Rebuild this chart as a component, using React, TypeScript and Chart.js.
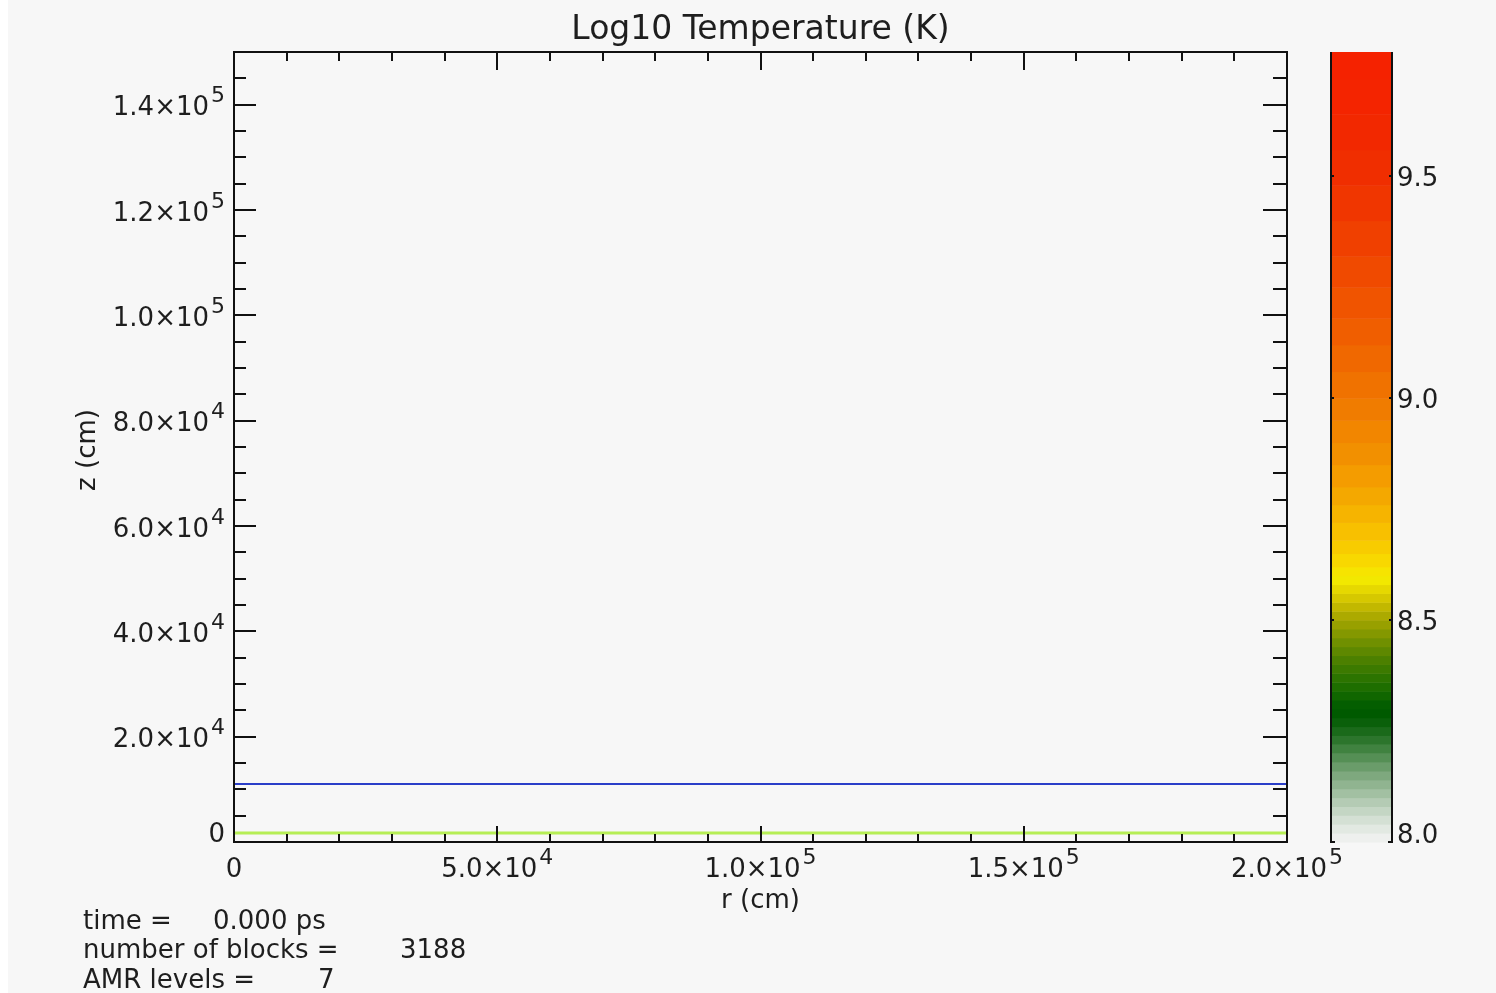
import React, { useEffect, useRef } from "react";
import { Chart, registerables } from "chart.js";

Chart.register(...registerables);

// ---- data ----
const rValues = [0, 200000];
const blueZ = [11000, 11000];
const greenZ = [1700, 1700];

const xTickValues = [0, 50000, 100000, 150000, 200000];
const xTickMant = ["0", "5.0", "1.0", "1.5", "2.0"];
const xTickExp = ["", "4", "5", "5", "5"];

const yTickValues = [0, 20000, 40000, 60000, 80000, 100000, 120000, 140000];
const yTickMant = ["0", "2.0", "4.0", "6.0", "8.0", "1.0", "1.2", "1.4"];
const yTickExp = ["", "4", "4", "4", "4", "5", "5", "5"];

const cbTickValues = [8.0, 8.5, 9.0, 9.5];
const cbTickLabels = ["8.0", "8.5", "9.0", "9.5"];

const cbStops = [
  8.0, 8.02, 8.04, 8.06, 8.08, 8.1, 8.12, 8.14, 8.16, 8.18, 8.2, 8.22, 8.24,
  8.26, 8.28, 8.3, 8.32, 8.34, 8.36, 8.38, 8.4, 8.42, 8.44, 8.46, 8.48, 8.5,
  8.52, 8.54, 8.56, 8.58, 8.6, 8.62, 8.65, 8.68, 8.72, 8.76, 8.8, 8.85, 8.9,
  8.95, 9.0, 9.06, 9.12, 9.18, 9.25, 9.32, 9.4, 9.48, 9.56, 9.64, 9.72, 9.78,
];
const cbColors = [
  "#eef0ee", "#e2e9e2", "#d4e0d4", "#c4d6c4", "#b4cbb4", "#a2c0a2", "#90b490",
  "#7ea87e", "#6a9c6a", "#558f55", "#408240", "#2c752c", "#1a6a1a", "#0a600a",
  "#005a00", "#045e00", "#106600", "#1e6e00", "#2c7400", "#3c7a00", "#4c8000",
  "#5e8800", "#709000", "#849800", "#98a000", "#acaa00", "#c2b800", "#d6c800",
  "#e6d800", "#f2e800", "#f6e400", "#f8d800", "#f8cc00", "#f8c000", "#f6b400",
  "#f4a800", "#f49c00", "#f29000", "#f28600", "#f07c00", "#f07200", "#f06800",
  "#f05e00", "#f05400", "#f04a00", "#f04000", "#f03600", "#f02e00", "#f22800",
  "#f42400", "#f52200",
];

const titleText = "Log10 Temperature (K)";
const xTitle = "r (cm)";
const yTitle = "z (cm)";
const infoLabels = ["time =", "number of blocks =", "AMR levels ="];
const infoValues = ["0.000 ps", "3188", "7"];

const FONT = "'DejaVu Sans', sans-serif";
const TEXT = "#1e1e1e";
const MAIN = 26;
const SUP = 22;

function sciWidth(ctx: CanvasRenderingContext2D, m: string, e: string) {
  ctx.font = `${MAIN}px ${FONT}`;
  const label = e ? m + "×10" : m;
  const w1 = ctx.measureText(label).width;
  ctx.font = `${SUP}px ${FONT}`;
  const w2 = e ? ctx.measureText(e).width + 2 : 0;
  return [w1, w2];
}

function drawSci(
  ctx: CanvasRenderingContext2D,
  m: string,
  e: string,
  x: number,
  y: number,
  align: "center" | "right"
) {
  const [w1, w2] = sciWidth(ctx, m, e);
  const total = w1 + w2;
  const left = align === "center" ? x - total / 2 : x - total;
  ctx.textAlign = "left";
  ctx.textBaseline = "middle";
  ctx.fillStyle = TEXT;
  ctx.font = `${MAIN}px ${FONT}`;
  ctx.fillText(e ? m + "×10" : m, left, y);
  if (e) {
    ctx.font = `${SUP}px ${FONT}`;
    ctx.fillText(e, left + w1 + 2, y - 12);
  }
}

const decorPlugin = {
  id: "decor",
  beforeDraw(chart: any) {
    const ctx = chart.ctx as CanvasRenderingContext2D;
    ctx.save();
    ctx.fillStyle = "#ffffff";
    ctx.fillRect(0, 0, chart.width, chart.height);
    ctx.fillStyle = "#f7f7f7";
    ctx.fillRect(8, 0, chart.width - 8, chart.height);
    ctx.restore();
  },
  afterDraw(chart: any) {
    const ctx = chart.ctx as CanvasRenderingContext2D;
    const xs = chart.scales.x;
    const ys = chart.scales.y;
    const cb = chart.scales.cb;
    const { left, right, top, bottom } = chart.chartArea;
    ctx.save();

    // frame
    ctx.strokeStyle = "#111";
    ctx.lineWidth = 2;
    ctx.strokeRect(left, top, right - left, bottom - top);

    // x ticks (top and bottom)
    ctx.beginPath();
    for (let v = 0; v <= 200000; v += 10000) {
      const px = Math.round(xs.getPixelForValue(v));
      const major = v % 50000 === 0;
      const lb = major ? 16 : 8;
      const lt = major ? 18 : 9;
      ctx.moveTo(px, bottom);
      ctx.lineTo(px, bottom - lb);
      ctx.moveTo(px, top);
      ctx.lineTo(px, top + lt);
    }
    // y ticks (left and right)
    for (let v = 0; v <= 150000; v += 5000) {
      const py = Math.round(ys.getPixelForValue(v));
      const major = v % 20000 === 0;
      const l = major ? 22 : 12;
      const r = major ? 24 : 14;
      ctx.moveTo(left, py);
      ctx.lineTo(left + l, py);
      ctx.moveTo(right, py);
      ctx.lineTo(right - r, py);
    }
    ctx.stroke();

    // x tick labels
    xTickValues.forEach((v, i) => {
      const px = xs.getPixelForValue(v);
      drawSci(ctx, xTickMant[i], xTickExp[i], px, bottom + 28, "center");
    });
    // y tick labels
    yTickValues.forEach((v, i) => {
      const py = Math.min(ys.getPixelForValue(v) + 4, bottom - 7);
      drawSci(ctx, yTickMant[i], yTickExp[i], left - 9, py, "right");
    });

    // titles
    ctx.fillStyle = TEXT;
    ctx.textAlign = "center";
    ctx.textBaseline = "middle";
    ctx.font = `33px ${FONT}`;
    ctx.fillText(titleText, (left + right) / 2, 30);
    ctx.font = `${MAIN}px ${FONT}`;
    ctx.fillText(xTitle, (left + right) / 2, 901);
    ctx.save();
    ctx.translate(88, 450);
    ctx.rotate(-Math.PI / 2);
    ctx.fillText(yTitle, 0, 0);
    ctx.restore();

    // colorbar
    const cbL = 1331;
    const cbR = 1392;
    for (let i = 0; i < cbColors.length; i++) {
      const y0 = cb.getPixelForValue(cbStops[i]);
      const y1 = cb.getPixelForValue(cbStops[i + 1]);
      ctx.fillStyle = cbColors[i];
      ctx.fillRect(cbL, Math.min(y0, y1), cbR - cbL, Math.abs(y0 - y1) + 0.5);
    }
    ctx.strokeStyle = "#111";
    ctx.lineWidth = 2;
    ctx.beginPath();
    const cbTop = cb.getPixelForValue(cbStops[cbStops.length - 1]);
    const cbBot = cb.getPixelForValue(cbStops[0]);
    ctx.moveTo(cbL, cbTop);
    ctx.lineTo(cbL, cbBot);
    ctx.lineTo(cbL + 4, cbBot);
    ctx.moveTo(cbR, cbTop);
    ctx.lineTo(cbR, cbBot);
    ctx.lineTo(cbR - 4, cbBot);
    cbTickValues.forEach((v) => {
      const py = Math.round(cb.getPixelForValue(v));
      ctx.moveTo(cbL, py);
      ctx.lineTo(cbL + 3, py);
      ctx.moveTo(cbR, py);
      ctx.lineTo(cbR - 3, py);
    });
    ctx.stroke();
    ctx.fillStyle = TEXT;
    ctx.font = `${MAIN}px ${FONT}`;
    ctx.textAlign = "left";
    ctx.textBaseline = "middle";
    cbTickValues.forEach((v, i) => {
      const py = Math.min(cb.getPixelForValue(v) + 3, cbBot - 6);
      ctx.fillText(cbTickLabels[i], cbR + 5, py);
    });

    // info text
    const infoX = [213, 400, 318];
    const infoY = [922, 951, 981];
    infoLabels.forEach((t, i) => {
      ctx.fillText(t, 83, infoY[i]);
      ctx.fillText(infoValues[i], infoX[i], infoY[i]);
    });

    ctx.restore();
  },
};

export default function App() {
  const ref = useRef<HTMLCanvasElement | null>(null);
  useEffect(() => {
    if (!ref.current) return;
    const chart = new Chart(ref.current, {
      type: "scatter",
      data: {
        datasets: [
          {
            label: "blue",
            data: rValues.map((r, i) => ({ x: r, y: blueZ[i] })),
            showLine: true,
            borderColor: "#2a3ec8",
            borderWidth: 2,
            pointRadius: 0,
          },
          {
            label: "green",
            data: rValues.map((r, i) => ({ x: r, y: greenZ[i] })),
            showLine: true,
            borderColor: "#b6ee55",
            borderWidth: 3,
            pointRadius: 0,
          },
        ],
      },
      options: {
        animation: false,
        responsive: false,
        devicePixelRatio: 1,
        layout: { padding: { left: 234, top: 52, right: 209, bottom: 151 } },
        plugins: { legend: { display: false }, tooltip: { enabled: false } },
        scales: {
          x: { type: "linear", min: 0, max: 200000, display: false },
          y: { type: "linear", min: 0, max: 150000, display: false },
          cb: { type: "linear", axis: "y", min: 8.0, max: 9.78, display: false },
        },
      },
      plugins: [decorPlugin],
    });
    return () => chart.destroy();
  }, []);
  return (
    <div style={{ position: "fixed", left: 0, top: 0, width: 1496, height: 993 }}>
      <canvas ref={ref} width={1496} height={993} style={{ display: "block" }} />
    </div>
  );
}
